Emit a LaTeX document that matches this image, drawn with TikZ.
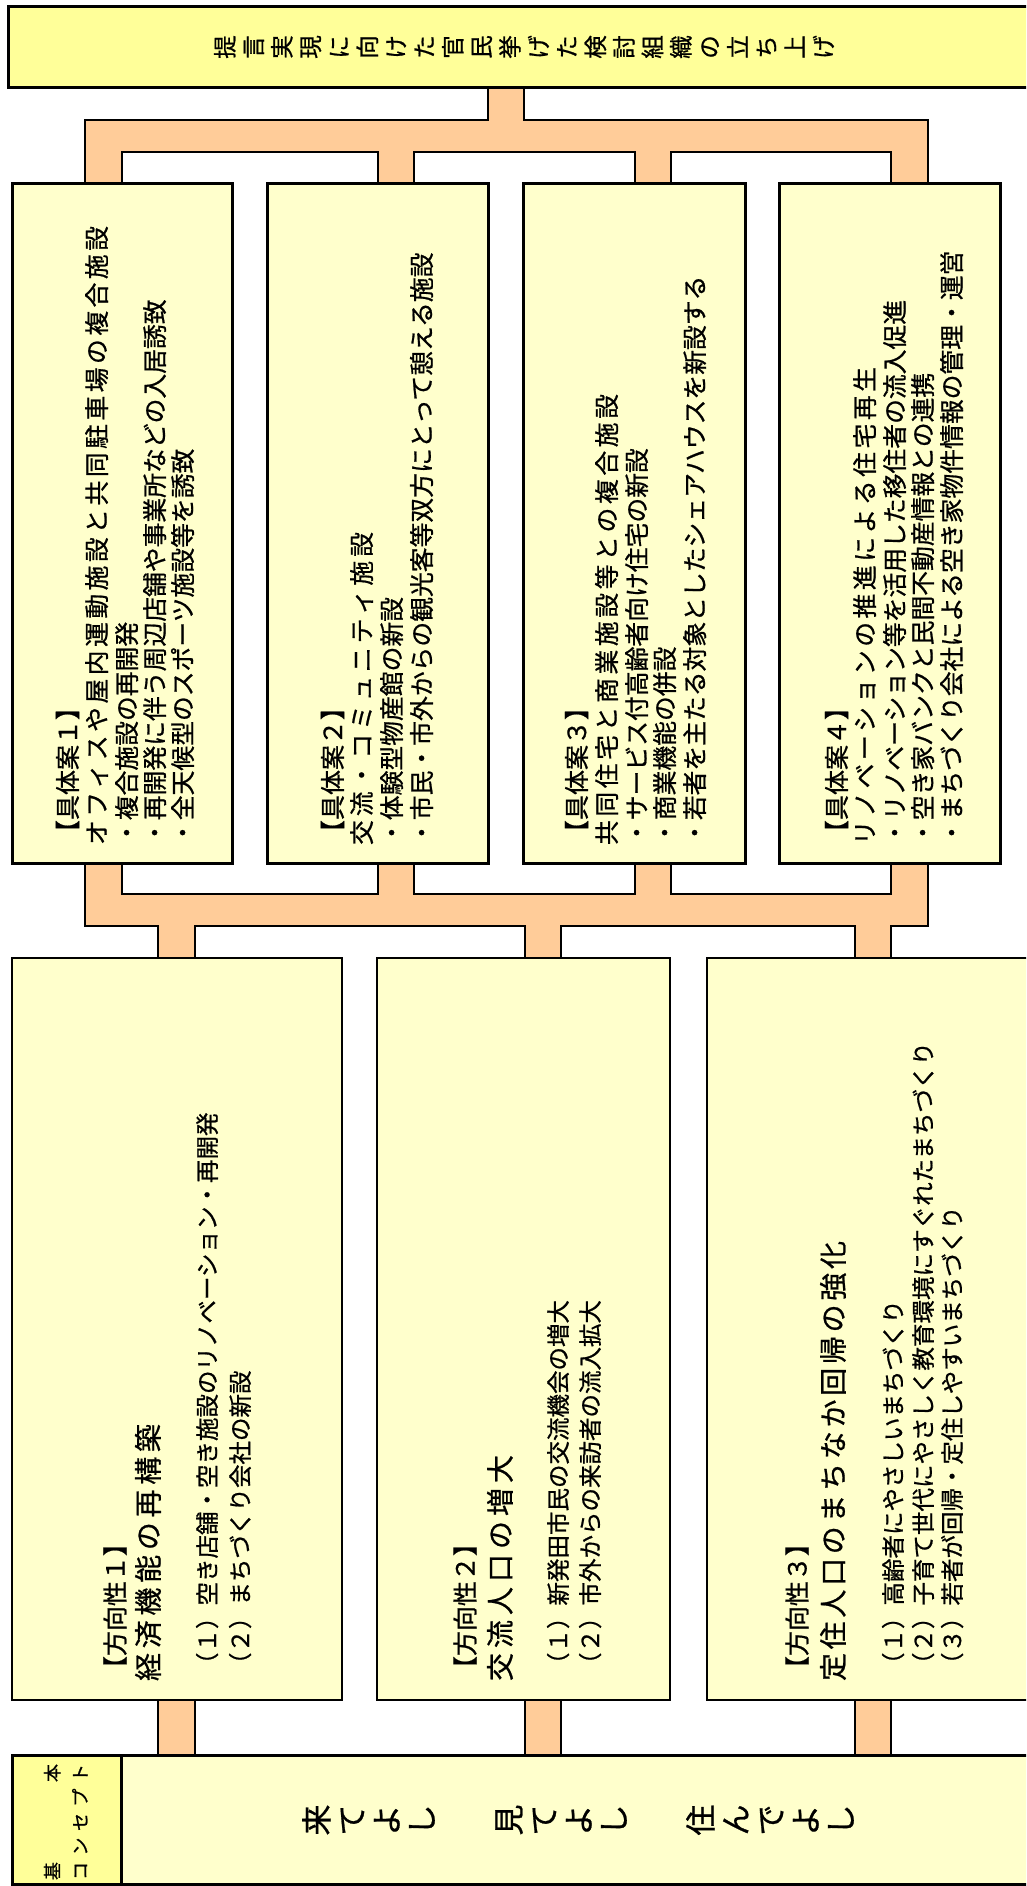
\documentclass[tikz,border=0pt]{standalone}
\usepackage{fontspec}
\setmainfont{Noto Sans CJK JP}[RawFeature={embolden=0.8}]
\definecolor{boxy}{HTML}{FFFFCC}
\definecolor{bary}{HTML}{FFFF99}
\definecolor{peach}{HTML}{FFCC99}
\makeatletter
\newcommand\spreadline[2]{\hbox to #1pt{\let\sl@sep\relax\@tfor\sl@c:=#2\do{\sl@sep\sl@c\let\sl@sep\hfil}}}
\makeatother
\tikzset{
  boxone/.style={draw=black, line width=3pt, fill=boxy, anchor=north west, inner sep=0pt, outer sep=0pt},
  boxtwo/.style={draw=black, line width=2.5pt, fill=boxy, anchor=north west, inner sep=0pt, outer sep=0pt},
  topbox/.style={draw=black, line width=3pt, fill=bary, anchor=north west, inner sep=0pt, outer sep=0pt},
  conn/.style={fill=peach, draw=black, line width=1.2pt, line join=miter},
  ln/.style={rotate=90, anchor=base west, inner sep=0pt, outer sep=0pt},
  fa/.style={font=\fontsize{24.8}{29}\selectfont},
  fhead/.style={font=\fontsize{25}{29}\selectfont},
  ftitle/.style={font=\fontsize{28}{32}\selectfont},
  fnum/.style={font=\fontsize{23.5}{28}\selectfont},
  fsmall/.style={font=\fontsize{18}{20}\selectfont},
}
\begin{document}
\begin{tikzpicture}[x=1pt,y=-1pt]
\path[use as bounding box] (0,0) rectangle (1026,1886);
\clip (0,0) rectangle (1026,1886);
\fill[white] (0,0) rectangle (1026,1886);

% ---------- connectors ----------
\draw[conn] (488,88) -- (524,88) -- (524,120) -- (928,120) -- (928,184) -- (891,184) -- (891,152)
  -- (671,152) -- (671,184) -- (635,184) -- (635,152) -- (414,152) -- (414,184) -- (378,184)
  -- (378,152) -- (122,152) -- (122,184) -- (85,184) -- (85,120) -- (488,120) -- cycle;
\draw[conn] (85,863) -- (122,863) -- (122,894) -- (378,894) -- (378,863) -- (414,863) -- (414,894)
  -- (635,894) -- (635,863) -- (671,863) -- (671,894) -- (891,894) -- (891,863) -- (928,863)
  -- (928,926) -- (891,926) -- (891,958) -- (855,958) -- (855,926) -- (561,926) -- (561,958)
  -- (525,958) -- (525,926) -- (195,926) -- (195,958) -- (158,958) -- (158,926) -- (85,926) -- cycle;
\draw[conn] (158,1698) rectangle (195,1757);
\draw[conn] (525,1698) rectangle (561,1757);
\draw[conn] (855,1698) rectangle (891,1757);

% ---------- top bar ----------
\node[topbox, minimum width=1040pt, minimum height=81pt] (top) at (8,7) {};
\node[rotate=90, align=center, inner sep=0pt, font=\fontsize{23.5}{28.5}\selectfont] (toptxt) at (524,47)
 {提\\言\\実\\現\\に\\向\\け\\た\\官\\民\\挙\\げ\\た\\検\\討\\組\\織\\の\\立\\ち\\上\\げ};

% ---------- row 1 boxes ----------
\node[boxone, minimum width=220pt, minimum height=679pt] (k1) at (12,184) {};
\node[boxone, minimum width=221pt, minimum height=679pt] (k2) at (267,184) {};
\node[boxone, minimum width=222pt, minimum height=679pt] (k3) at (523,184) {};
\node[boxone, minimum width=221pt, minimum height=679pt] (k4) at (779,184) {};

\node[ln, fhead] (k1a) at (77,845) {【具体案１】};
\node[ln, fa] (k1b) at (106,845) {\spreadline{619}{オフィスや屋内運動施設と共同駐車場の複合施設}};
\node[ln, fa] (k1c) at (136,845) {・複合施設の再開発};
\node[ln, fa] (k1d) at (164,845) {・再開発に伴う周辺店舗や事業所などの入居誘致};
\node[ln, fa] (k1e) at (192,845) {・全天候型のスポーツ施設等を誘致};

\node[ln, fhead] (k2a) at (342,845) {【具体案２】};
\node[ln, fa] (k2b) at (371,845) {\spreadline{313}{交流・コミュニティ施設}};
\node[ln, fa] (k2c) at (401,845) {・体験型物産館の新設};
\node[ln, fa] (k2d) at (431,845) {・市民・市外からの観光客等双方にとって憩える施設};

\node[ln, fhead] (k3a) at (586,845) {【具体案３】};
\node[ln, fa] (k3b) at (616,845) {\spreadline{451}{共同住宅と商業施設等との複合施設}};
\node[ln, fa] (k3c) at (646,845) {・サービス付高齢者向け住宅の新設};
\node[ln, fa] (k3d) at (674,845) {・商業機能の併設};
\node[ln, fa] (k3e) at (704,845) {・若者を主たる対象としたシェアハウスを新設する};

\node[ln, fhead] (k4a) at (846,845) {【具体案４】};
\node[ln, fa] (k4b) at (874,845) {\spreadline{478}{リノベーションの推進による住宅再生}};
\node[ln, fa] (k4c) at (904,845) {・リノベーション等を活用した移住者の流入促進};
\node[ln, fa] (k4d) at (932,845) {・空き家バンクと民間不動産情報との連携};
\node[ln, fa] (k4e) at (961,845) {・まちづくり会社による空き家物件情報の管理・運営};

% ---------- row 2 boxes ----------
\node[boxtwo, minimum width=330pt, minimum height=742pt] (h1) at (12,958) {};
\node[boxtwo, minimum width=293pt, minimum height=742pt] (h2) at (377,958) {};
\node[boxtwo, minimum width=340pt, minimum height=742pt] (h3) at (707,958) {};

\node[ln, fhead] (h1a) at (124.5,1681) {【方向性１】};
\node[ln, ftitle] (h1b) at (158.6,1681) {\spreadline{257}{経済機能の再構築}};
\node[ln, fnum] (h1c) at (216,1676) {（１）空き店舗・空き施設のリノベーション・再開発};
\node[ln, fnum] (h1d) at (249,1676) {（２）まちづくり会社の新設};

\node[ln, fhead] (h2a) at (474.5,1681) {【方向性２】};
\node[ln, ftitle] (h2b) at (510.6,1681) {\spreadline{226}{交流人口の増大}};
\node[ln, fnum] (h2c) at (567,1676) {（１）新発田市民の交流機会の増大};
\node[ln, fnum] (h2d) at (599,1676) {（２）市外からの来訪者の流入拡大};

\node[ln, fhead] (h3a) at (806.5,1681) {【方向性３】};
\node[ln, ftitle] (h3b) at (843.6,1681) {\spreadline{440}{定住人口のまちなか回帰の強化}};
\node[ln, fnum] (h3c) at (902,1676) {（１）高齢者にやさしいまちづくり};
\node[ln, fnum] (h3d) at (932,1676) {（２）子育て世代にやさしく教育環境にすぐれたまちづくり};
\node[ln, fnum] (h3e) at (961,1676) {（３）若者が回帰・定住しやすいまちづくり};

% ---------- concept ----------
\node[boxtwo, line width=3pt, minimum width=1040pt, minimum height=129pt] (cmain) at (12,1755) {};
\node[topbox, minimum width=109pt, minimum height=129pt] (csub) at (12,1755) {};
\node[ln, fsmall] (csa) at (59,1880) {\spreadline{116}{基本}};
\node[ln, fsmall] (csb) at (87,1880) {\spreadline{116}{コンセプト}};
\node[rotate=90, align=center, inner sep=0pt, font=\fontsize{31}{35}\selectfont] (ctxt) at (578,1820)
 {来\\て\\よ\\し\\[52pt]見\\て\\よ\\し\\[52pt]住\\ん\\で\\よ\\し};
\end{tikzpicture}
\end{document}
